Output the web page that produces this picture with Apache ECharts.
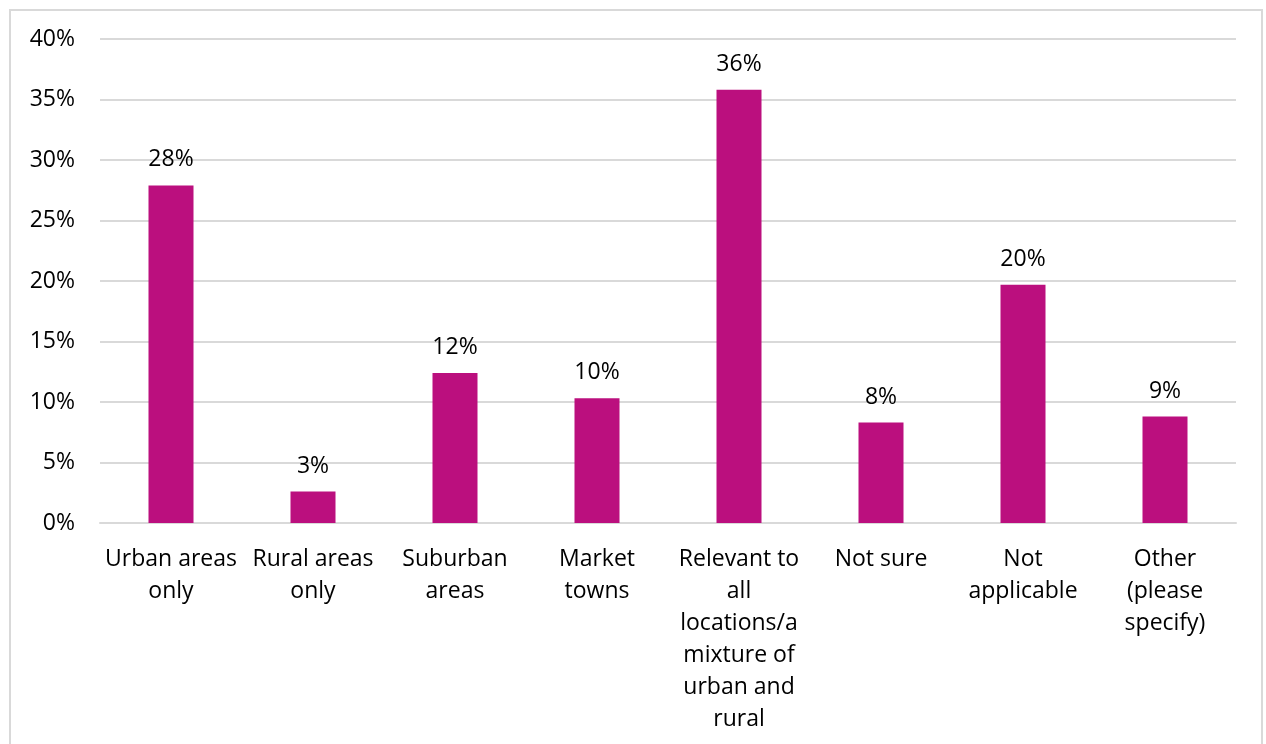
<!DOCTYPE html>
<html>
<head>
<meta charset="utf-8">
<script src="https://cdn.jsdelivr.net/npm/echarts@6/dist/echarts.min.js"></script>
<style>
  html, body { margin: 0; padding: 0; background: #fff; overflow: hidden; }
  #frame {
    position: absolute; left: 9px; top: 9px; width: 1254px; height: 760px;
    border: 2px solid #d9d9d9; box-sizing: border-box;
  }
  #chart { position: absolute; left: 0; top: 0; width: 1266px; height: 744px; }
</style>
</head>
<body>
<div id="frame"></div>
<div id="chart"></div>
<script>
// Survey responses: where the issue applies (share of respondents, %)
const categories = [
  'Urban areas\nonly',
  'Rural areas\nonly',
  'Suburban\nareas',
  'Market\ntowns',
  'Relevant to\nall\nlocations/a\nmixture of\nurban and\nrural',
  'Not sure',
  'Not\napplicable',
  'Other\n(please\nspecify)'
];
const shares = [27.9, 2.6, 12.4, 10.3, 35.8, 8.3, 19.7, 8.8];
const yTicks = [0, 5, 10, 15, 20, 25, 30, 35, 40];

const font = '"Open Sans", "Noto Sans", sans-serif';
const chart = echarts.init(document.getElementById('chart'), null, { renderer: 'canvas' });

chart.setOption({
  animation: false,
  backgroundColor: 'transparent',
  grid: { left: 100, right: 30, top: 39, bottom: 221, containLabel: false },
  xAxis: {
    type: 'category',
    data: categories,
    axisLine: { show: true, lineStyle: { color: '#d9d9d9', width: 2 } },
    axisTick: { show: false },
    axisLabel: {
      interval: 0, margin: 20, color: '#000', fontFamily: font,
      fontSize: 23, lineHeight: 32
    }
  },
  yAxis: {
    type: 'value',
    min: yTicks[0], max: yTicks[yTicks.length - 1], interval: yTicks[1] - yTicks[0],
    axisLine: { show: false },
    axisTick: { show: false },
    splitLine: { lineStyle: { color: '#d9d9d9', width: 2 } },
    axisLabel: {
      margin: 25, color: '#000', fontFamily: font, fontSize: 23,
      formatter: v => v + '%'
    }
  },
  series: [{
    type: 'bar',
    data: shares,
    barWidth: 45,
    itemStyle: { color: '#bb0f7e' },
    label: {
      show: true, position: 'top', distance: 14,
      color: '#000', fontFamily: font, fontSize: 23,
      formatter: p => Math.round(p.value) + '%'
    }
  }]
});
</script>
</body>
</html>
